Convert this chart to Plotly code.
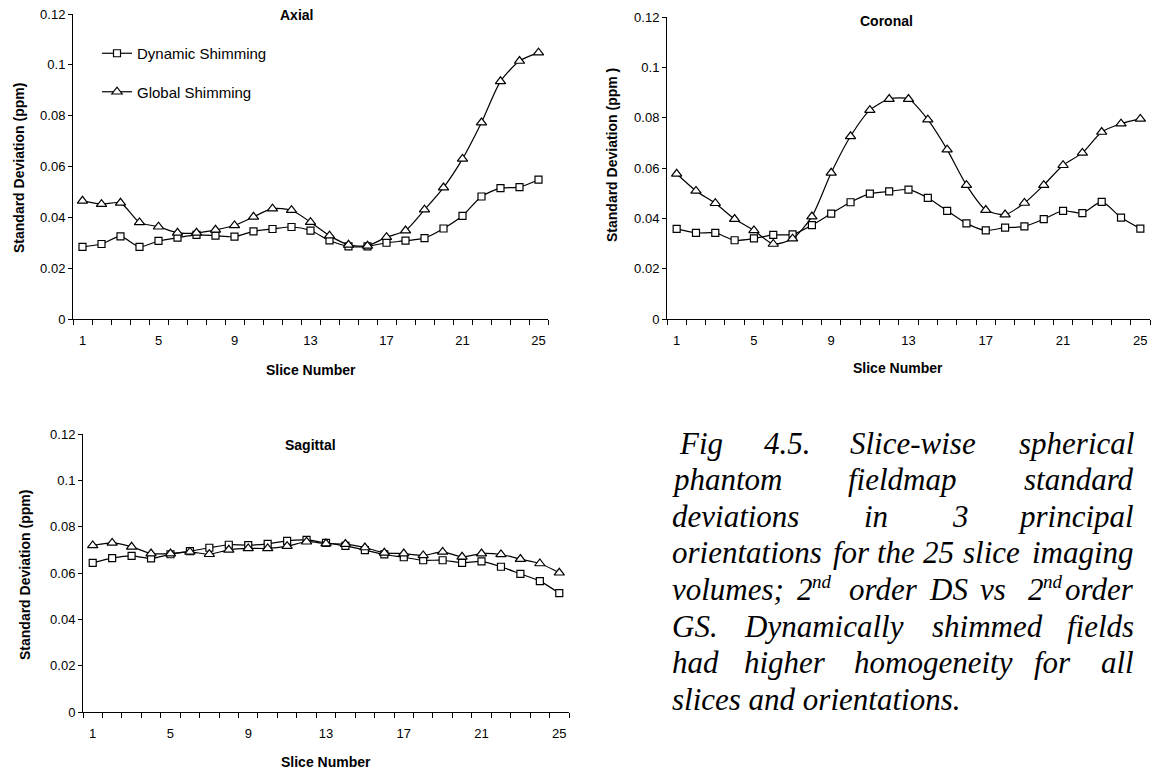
import plotly.graph_objects as go

W, H = 1156, 773

slices = list(range(1, 26))
tick_slices = [1, 5, 9, 13, 17, 21, 25]
y_ticks = [0, 0.02, 0.04, 0.06, 0.08, 0.1, 0.12]
y_tick_text = ["0", "0.02", "0.04", "0.06", "0.08", "0.1", "0.12"]

axial_dynamic = [0.0284, 0.0295, 0.0325, 0.0284, 0.0307, 0.0320, 0.0331, 0.0328, 0.0324, 0.0345,
                 0.0354, 0.0362, 0.0348, 0.0309, 0.0286, 0.0286, 0.0300, 0.0308, 0.0318, 0.0356,
                 0.0406, 0.0482, 0.0515, 0.0519, 0.0548]
axial_global = [0.0465, 0.0452, 0.0457, 0.0380, 0.0363, 0.0339, 0.0339, 0.0351, 0.0368, 0.0402,
                0.0434, 0.0428, 0.0381, 0.0328, 0.0292, 0.0288, 0.0322, 0.0348, 0.0430, 0.0517,
                0.0630, 0.0773, 0.0935, 0.1015, 0.1048]

coronal_dynamic = [0.0358, 0.0342, 0.0342, 0.0313, 0.0320, 0.0334, 0.0336, 0.0373, 0.0419, 0.0464,
                   0.0498, 0.0507, 0.0514, 0.0481, 0.0430, 0.0380, 0.0352, 0.0363, 0.0368, 0.0397,
                   0.0430, 0.0421, 0.0465, 0.0403, 0.0359]
coronal_global = [0.0577, 0.0509, 0.0460, 0.0397, 0.0352, 0.0298, 0.0319, 0.0407, 0.0581, 0.0726,
                  0.0830, 0.0874, 0.0874, 0.0792, 0.0673, 0.0532, 0.0433, 0.0415, 0.0461, 0.0532,
                  0.0611, 0.0660, 0.0743, 0.0776, 0.0795]

sagittal_dynamic = [0.0644, 0.0664, 0.0674, 0.0663, 0.0681, 0.0694, 0.0709, 0.0722, 0.0720, 0.0726,
                    0.0739, 0.0743, 0.0730, 0.0717, 0.0699, 0.0680, 0.0668, 0.0655, 0.0655, 0.0644,
                    0.0650, 0.0627, 0.0596, 0.0565, 0.0513]
sagittal_global = [0.0719, 0.0730, 0.0713, 0.0684, 0.0684, 0.0691, 0.0681, 0.0700, 0.0706, 0.0706,
                   0.0716, 0.0735, 0.0727, 0.0725, 0.0710, 0.0687, 0.0684, 0.0676, 0.0691, 0.0670,
                   0.0684, 0.0680, 0.0660, 0.0641, 0.0601]

series_names = ["Dynamic Shimming", "Global Shimming"]
panel_titles = ["Axial", "Coronal", "Sagittal"]

# caption words; a (base, superscript) pair is drawn as an ordinal
caption_lines = [
    ["Fig", "4.5.", "Slice-wise", "spherical"],
    ["phantom", "fieldmap", "standard"],
    ["deviations", "in", "3", "principal"],
    ["orientations", "for", "the", "25", "slice", "imaging"],
    ["volumes;", ("2", "nd"), "order", "DS", "vs", ("2", "nd"), "order"],
    ["GS.", "Dynamically", "shimmed", "fields"],
    ["had", "higher", "homogeneity", "for", "all"],
    ["slices and orientations."],
]


def px(x):
    return x / W


def py(y):
    return 1 - y / H


# plot-area boxes in pixels: (left, right, top, bottom)
boxes = {
    "Axial": (73, 548, 14, 319),
    "Coronal": (667, 1150, 17, 319),
    "Sagittal": (83, 569, 434, 712),
}

fig = go.Figure()

panels = [
    ("Axial", axial_dynamic, axial_global, "x", "y"),
    ("Coronal", coronal_dynamic, coronal_global, "x2", "y2"),
    ("Sagittal", sagittal_dynamic, sagittal_global, "x3", "y3"),
]

for name, dyn, glob, xa, ya in panels:
    show = name == "Axial"
    fig.add_trace(go.Scatter(
        x=slices, y=dyn, xaxis=xa, yaxis=ya, mode="lines+markers",
        name=series_names[0], legendgroup="ds", showlegend=show,
        line=dict(color="black", width=1.2, shape="spline", smoothing=0.7),
        marker=dict(symbol="square", size=7, color="white", line=dict(color="black", width=1.2)),
    ))
    fig.add_trace(go.Scatter(
        x=slices, y=glob, xaxis=xa, yaxis=ya, mode="lines+markers",
        name=series_names[1], legendgroup="gs", showlegend=show,
        line=dict(color="black", width=1.2, shape="spline", smoothing=0.7),
        marker=dict(symbol="triangle-up", size=9, color="white", line=dict(color="black", width=1.2)),
    ))

tick_font = dict(family="Liberation Sans, Arial, sans-serif", size=13, color="black")


def x_axis(box, anchor):
    l, r, t, b = box
    return dict(
        domain=[px(l), px(r)], anchor=anchor, range=[0.5, 25.5], automargin=False,
        showline=True, linecolor="black", linewidth=1, showgrid=False, zeroline=False,
        tickvals=tick_slices, ticktext=[str(v) for v in tick_slices], ticks="",
        ticklabelstandoff=9,
        minor=dict(ticks="outside", tick0=0.5, dtick=1, ticklen=5, tickcolor="black", showgrid=False),
        tickfont=tick_font, fixedrange=True,
    )


def y_axis(box, anchor):
    l, r, t, b = box
    return dict(
        domain=[py(b), py(t)], anchor=anchor, range=[0, 0.12], automargin=False,
        showline=True, linecolor="black", linewidth=1, showgrid=False, zeroline=False,
        tickvals=y_ticks, ticktext=y_tick_text, ticks="outside", ticklen=4, tickcolor="black",
        tickfont=tick_font, fixedrange=True,
    )


fig.update_layout(
    width=W, height=H, margin=dict(l=0, r=0, t=0, b=0, autoexpand=False),
    paper_bgcolor="white", plot_bgcolor="white",
    xaxis=x_axis(boxes["Axial"], "y"), yaxis=y_axis(boxes["Axial"], "x"),
    xaxis2=x_axis(boxes["Coronal"], "y2"), yaxis2=y_axis(boxes["Coronal"], "x2"),
    xaxis3=x_axis(boxes["Sagittal"], "y3"), yaxis3=y_axis(boxes["Sagittal"], "x3"),
    legend=dict(
        x=px(97), y=py(37), xanchor="left", yanchor="top",
        font=dict(family="Liberation Sans, Arial, sans-serif", size=15, color="black"),
        bgcolor="rgba(0,0,0,0)", traceorder="grouped", tracegroupgap=16,
    ),
    showlegend=True,
)

bold = dict(family="Liberation Sans, Arial, sans-serif", size=14, color="black")
annots = []


def note(text, x, y, anchor="center", font=bold, angle=0):
    annots.append(dict(text=text, x=px(x), y=py(y), xref="paper", yref="paper",
                       xanchor=anchor, yanchor="middle", textangle=angle,
                       showarrow=False, font=font))


# panel titles
for title, (cx, cy) in zip(panel_titles, [(296, 15), (886, 21), (310, 445)]):
    note("<b>%s</b>" % title, cx, cy)
# x-axis titles
for cx, cy in [(311, 370), (898, 368), (326, 762)]:
    note("<b>Slice Number</b>", cx, cy)
# y-axis titles
for txt, cx, cy in [("Standard Deviation (ppm)", 19, 168),
                    ("Standard Deviation (ppm )", 612, 155),
                    ("Standard Deviation (ppm)", 25, 575)]:
    note("<b>%s</b>" % txt, cx, cy, angle=-90)

# justified caption, placed word by word
cap_font = dict(family="Liberation Serif, Times New Roman, serif", size=31, color="black")
sup_font = dict(family="Liberation Serif, Times New Roman, serif", size=19, color="black")
word_left = [
    [676.7, 761.7, 848],
    [670, 845.5],
    [670, 861.6, 949.5],
    [670, 831, 875, 921, 961],
    [670, 795, 846.7, 927, 978, 1026],
    [670, 742.3, 930],
    [670, 742, 852, 1032],
    [670],
]
right_edge = 1136
baseline0, line_gap = 453, 36.6
for i, words in enumerate(caption_lines):
    base = baseline0 + i * line_gap
    yc = base - 10
    last = len(words) - 1
    for j, w in enumerate(words):
        if isinstance(w, tuple):
            x0 = word_left[i][j]
            note("<i>%s</i>" % w[0], x0, yc, anchor="left", font=cap_font)
            note("<i>%s</i>" % w[1], x0 + 14.5, base - 18, anchor="left", font=sup_font)
        elif j == last and i < len(caption_lines) - 1:
            note("<i>%s</i>" % w, right_edge, yc, anchor="right", font=cap_font)
        else:
            note("<i>%s</i>" % w, word_left[i][j], yc, anchor="left", font=cap_font)

fig.update_layout(annotations=annots)

fig.write_html("out.html", config={"displayModeBar": False})
